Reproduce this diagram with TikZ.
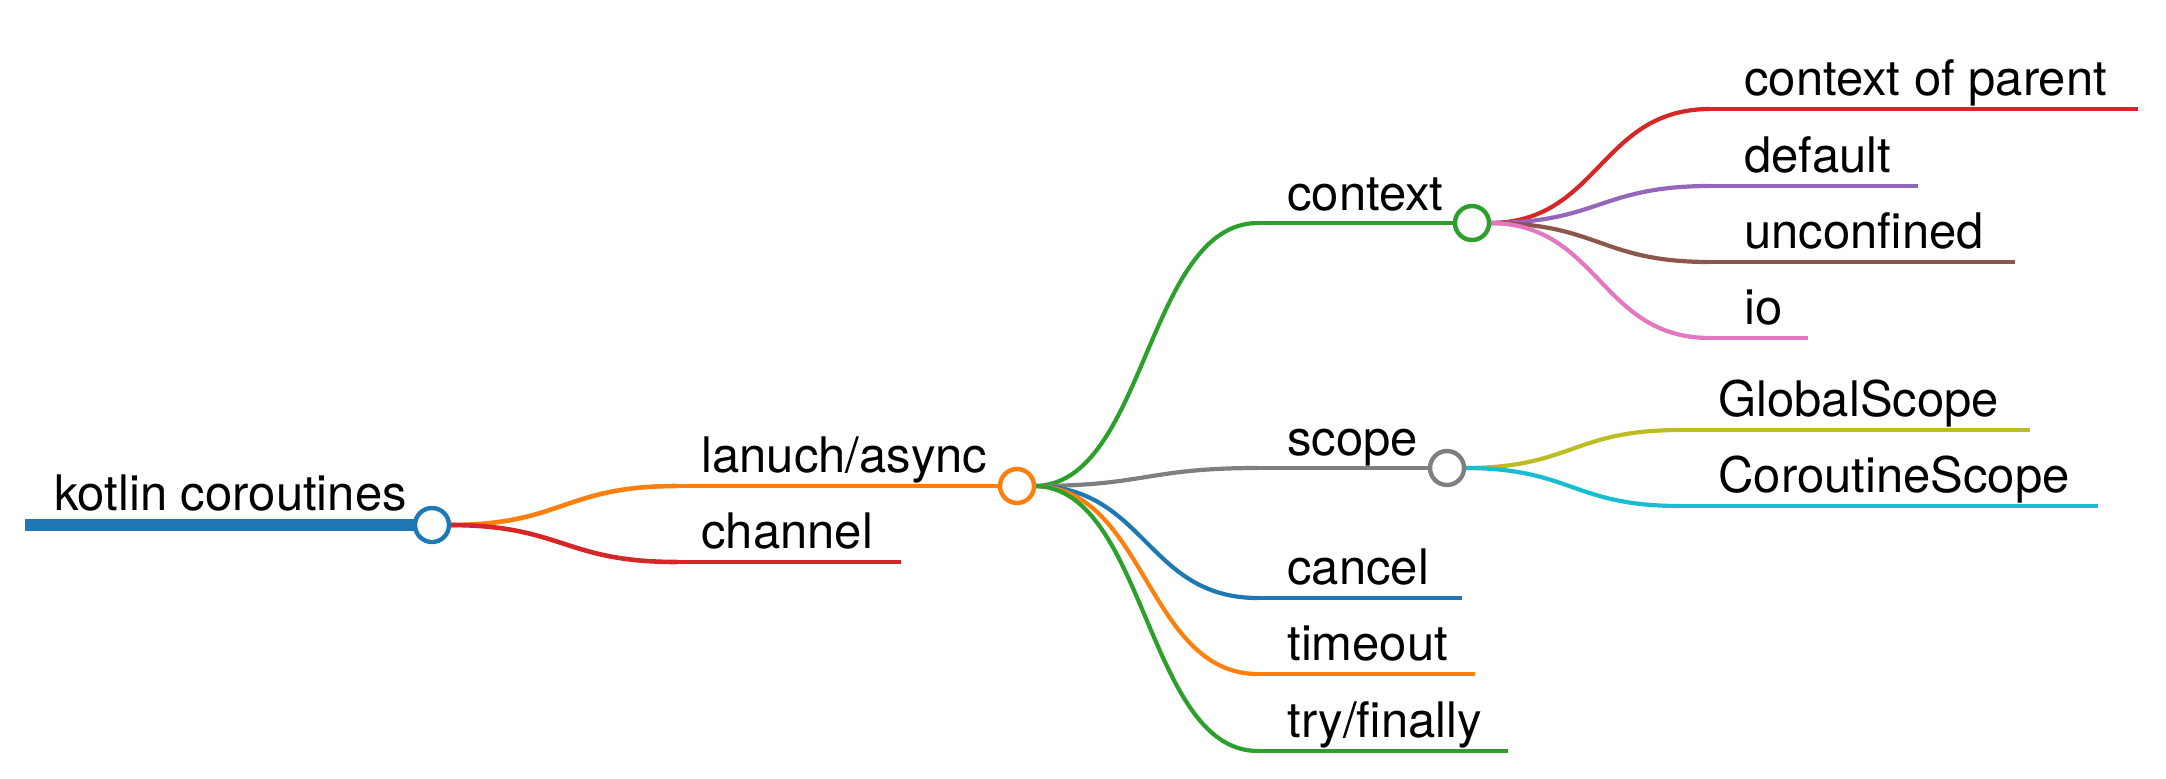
\documentclass[tikz,border=0pt]{standalone}
\usepackage{fontspec}
\setmainfont{TeX Gyre Heros}
\usetikzlibrary{calc,backgrounds}
\definecolor{cBlue}{HTML}{1F77B4}
\definecolor{cOrange}{HTML}{FF7F0E}
\definecolor{cGreen}{HTML}{2CA02C}
\definecolor{cRed}{HTML}{D62728}
\definecolor{cPurple}{HTML}{9467BD}
\definecolor{cBrown}{HTML}{8C564B}
\definecolor{cPink}{HTML}{E377C2}
\definecolor{cGray}{HTML}{7F7F7F}
\definecolor{cOlive}{HTML}{BCBD22}
\definecolor{cCyan}{HTML}{17BECF}
\newcommand\mmlink[4]{\draw[#1,line width=#2] let \p1=(#3),\p2=(#4) in (\p1) .. controls ({(\x1+\x2)/2},\y1) and ({(\x1+\x2)/2},\y2) .. (\p2);}
\begin{document}
\begin{tikzpicture}[x=0.5pt,y=-0.5pt,
  lbl/.style={anchor=base west,inner sep=0pt,font=\fontsize{24.5pt}{28pt}\selectfont},
  dot/.style={circle,draw,fill=white,line width=2.2pt,minimum size=17pt,inner sep=0pt,outer sep=0pt},
  lvA/.style={line width=2.3pt},
  lvB/.style={line width=2.1pt}]
\useasboundingbox (0,0) rectangle (2166,778);
% circles
\node[dot,draw=cBlue] (root) at (432,525) {};
\node[dot,draw=cOrange] (lan) at (1017,486) {};
\node[dot,draw=cGreen] (ctx) at (1472,223) {};
\node[dot,draw=cGray] (sc) at (1447,468) {};
% coordinates
\coordinate (rootS) at (25,525);
\coordinate (lanS) at (677,486);
\coordinate (chS) at (677,562); \coordinate (chE) at (901,562);
\coordinate (ctxS) at (1258,223);
\coordinate (scS) at (1258,468);
\coordinate (caS) at (1258,598); \coordinate (caE) at (1462,598);
\coordinate (toS) at (1258,674); \coordinate (toE) at (1475,674);
\coordinate (tfS) at (1258,751); \coordinate (tfE) at (1508,751);
\coordinate (cpS) at (1710,109); \coordinate (cpE) at (2138,109);
\coordinate (dfS) at (1710,186); \coordinate (dfE) at (1918,186);
\coordinate (ucS) at (1710,262); \coordinate (ucE) at (2015,262);
\coordinate (ioS) at (1710,338); \coordinate (ioE) at (1808,338);
\coordinate (gsS) at (1680,430); \coordinate (gsE) at (2030,430);
\coordinate (csS) at (1680,506); \coordinate (csE) at (2098,506);
% labels
\node[lbl] (tRoot) at (54,510) {kotlin coroutines};
\node[lbl] (tLan) at (701,472) {lanuch/async};
\node[lbl] (tCh) at (701,548) {channel};
\node[lbl] (tCtx) at (1287,210) {context};
\node[lbl] (tSc) at (1287,455) {scope};
\node[lbl] (tCa) at (1287,584) {cancel};
\node[lbl] (tTo) at (1287,660) {timeout};
\node[lbl] (tTf) at (1287,737) {try/finally};
\node[lbl] (tCp) at (1744,95) {context of parent};
\node[lbl] (tDf) at (1744,172) {default};
\node[lbl] (tUc) at (1744,248) {unconfined};
\node[lbl] (tIo) at (1744,324) {io};
\node[lbl] (tGs) at (1718,416) {GlobalScope};
\node[lbl] (tCs) at (1718,492) {CoroutineScope};
\begin{scope}[on background layer]
  \draw[cBlue,line width=6pt] (rootS) -- (root.center);
  % level 1
  \mmlink{cOrange}{2.3pt}{root.east}{lanS}
  \draw[cOrange,lvA] (lanS) -- (lan.center);
  \mmlink{cRed}{2.3pt}{root.east}{chS}
  \draw[cRed,lvA] (chS) -- (chE);
  % level 2
  \mmlink{cGreen}{2.1pt}{lan.east}{ctxS}
  \draw[cGreen,lvB] (ctxS) -- (ctx.center);
  \mmlink{cGray}{2.1pt}{lan.east}{scS}
  \draw[cGray,lvB] (scS) -- (sc.center);
  \mmlink{cBlue}{2.1pt}{lan.east}{caS}
  \draw[cBlue,lvB] (caS) -- (caE);
  \mmlink{cOrange}{2.1pt}{lan.east}{toS}
  \draw[cOrange,lvB] (toS) -- (toE);
  \mmlink{cGreen}{2.1pt}{lan.east}{tfS}
  \draw[cGreen,lvB] (tfS) -- (tfE);
  % level 3
  \mmlink{cRed}{2.1pt}{ctx.east}{cpS}
  \draw[cRed,lvB] (cpS) -- (cpE);
  \mmlink{cPurple}{2.1pt}{ctx.east}{dfS}
  \draw[cPurple,lvB] (dfS) -- (dfE);
  \mmlink{cBrown}{2.1pt}{ctx.east}{ucS}
  \draw[cBrown,lvB] (ucS) -- (ucE);
  \mmlink{cPink}{2.1pt}{ctx.east}{ioS}
  \draw[cPink,lvB] (ioS) -- (ioE);
  \mmlink{cOlive}{2.1pt}{sc.east}{gsS}
  \draw[cOlive,lvB] (gsS) -- (gsE);
  \mmlink{cCyan}{2.1pt}{sc.east}{csS}
  \draw[cCyan,lvB] (csS) -- (csE);
\end{scope}
\end{tikzpicture}
\end{document}
